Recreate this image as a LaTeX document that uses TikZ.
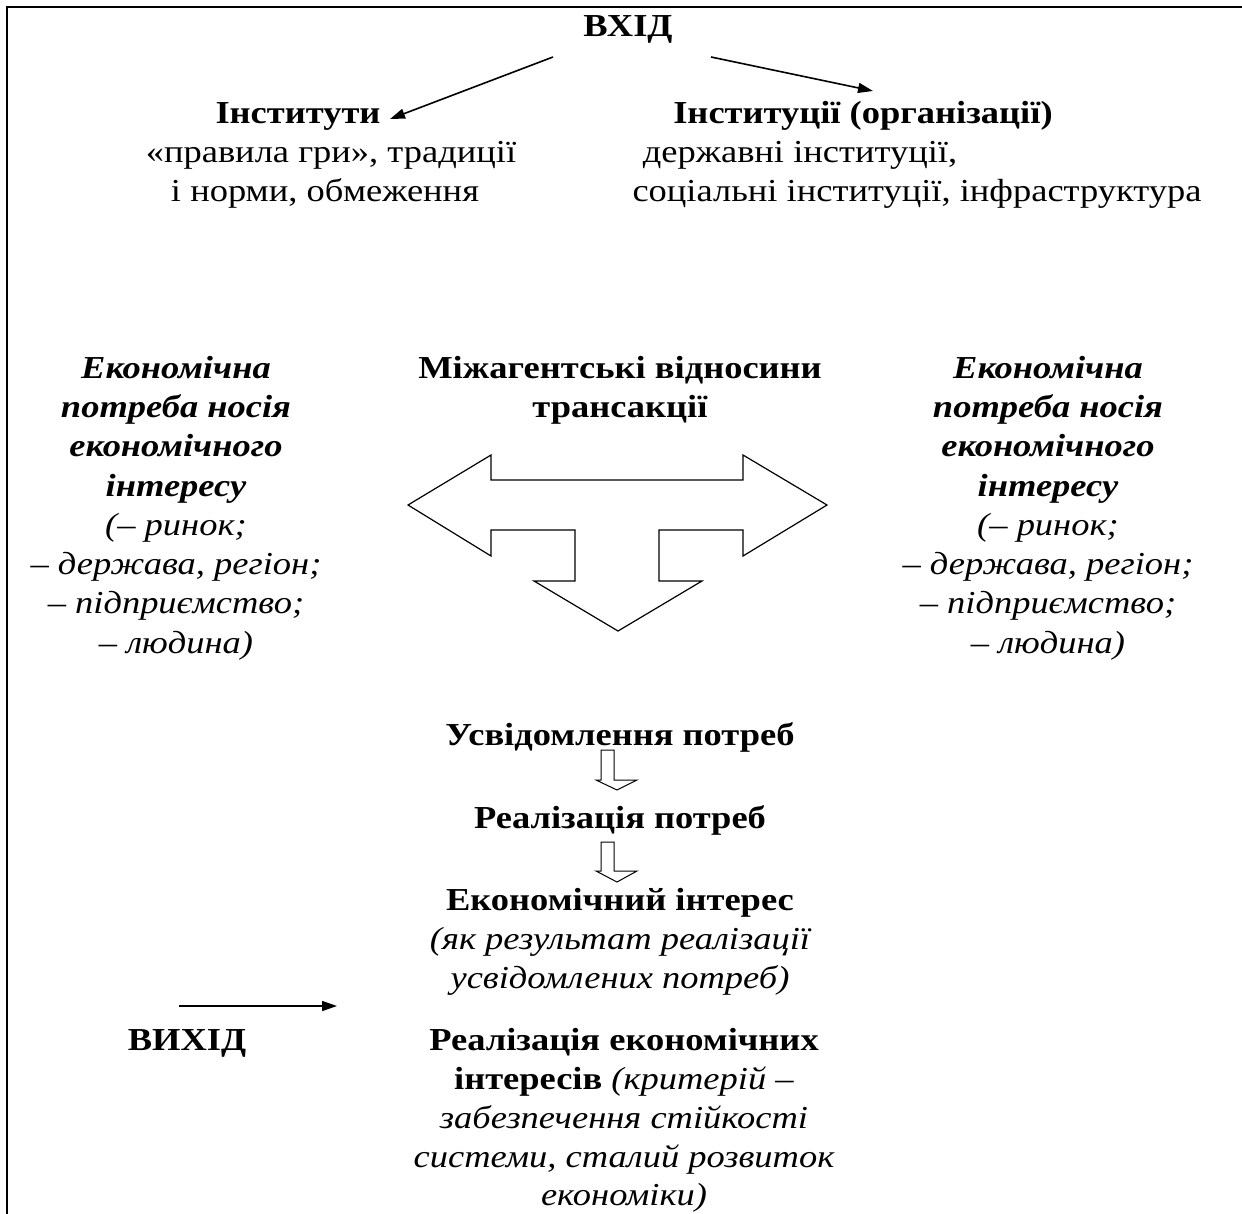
\documentclass[tikz,border=0pt]{standalone}
\usepackage{fontspec}
\setmainfont{Liberation Serif}[FakeStretch=1.14]
\usetikzlibrary{arrows.meta}
\begin{document}
\begin{tikzpicture}[x=1pt,y=-1pt,
  txt/.style={anchor=base,inner sep=0pt,font=\fontsize{32}{39}\selectfont},
  txtb/.style={txt,font=\fontsize{32}{39}\selectfont\bfseries},
  txti/.style={txt,font=\fontsize{32}{39}\selectfont\itshape},
  txtbi/.style={txt,font=\fontsize{32}{39}\selectfont\bfseries\itshape},
  frame/.style={line width=2.2pt},
  conn/.style={line width=1.6pt,-{Triangle[length=15pt,width=10pt]}},
  outl/.style={line width=1.2pt,line join=miter}
]
\useasboundingbox (0,0) rectangle (1242,1213);
% frame
\draw[frame] (7,1220) -- (7,7) -- (1250,7);

% top
\node[txtb] (vhid) at (628,36) {ВХІД};
\node[txtb] (inst) at (298,123) {Інститути};
\node[txt] (inst2) at (331,162) {«правила гри», традиції};
\node[txt] (inst3) at (325,201) {і норми, обмеження};
\node[txtb] (org) at (863,123) {Інституції (організації)};
\node[txt] (org2) at (800,162) {державні інституції,};
\node[txt] (org3) at (917,201) {соціальні інституції, інфраструктура};

\coordinate (vl) at (553,57);
\coordinate (il) at (390,119);
\coordinate (vr) at (711,57);
\coordinate (ir) at (873,91);
\draw[conn] (vl) -- (il);
\draw[conn] (vr) -- (ir);

% middle
\node[txtb] (mid1) at (620,378) {Міжагентські відносини};
\node[txtb] (mid2) at (620,417) {трансакції};

\foreach \cx/\nm in {176/L,1048/R}{
  \node[txtbi] (e1\nm) at (\cx,378) {Економічна};
  \node[txtbi] (e2\nm) at (\cx,417) {потреба носія};
  \node[txtbi] (e3\nm) at (\cx,456) {економічного};
  \node[txtbi] (e4\nm) at (\cx,496) {інтересу};
  \node[txti] (e5\nm) at (\cx,535) {(– ринок;};
  \node[txti] (e6\nm) at (\cx,574) {– держава, регіон;};
  \node[txti] (e7\nm) at (\cx,613) {– підприємство;};
  \node[txti] (e8\nm) at (\cx,653) {– людина)};
}

% big T arrow
\draw[outl] (408,505) -- (491,455) -- (491,480) -- (743,480) -- (743,455)
  -- (827,505) -- (743,556) -- (743,530) -- (659,530) -- (659,581)
  -- (702,581) -- (618,631) -- (534,581) -- (575,581) -- (575,530)
  -- (491,530) -- (491,556) -- cycle;

% lower chain
\node[txtb] (us) at (620,745) {Усвідомлення потреб};
\draw[outl,line width=1pt] (601,750) -- (601,780) -- (596,780) -- (617,790) -- (637,780) -- (614,780) -- (614,750) -- cycle;
\node[txtb] (rp) at (620,828) {Реалізація потреб};
\draw[outl,line width=1pt] (601,842) -- (601,871) -- (596,871) -- (617,882) -- (637,871) -- (614,871) -- (614,842) -- cycle;
\node[txtb] (ei) at (620,910) {Економічний інтерес};
\node[txti] (ei2) at (620,949) {(як результат реалізації};
\node[txti] (ei3) at (620,988) {усвідомлених потреб)};

\node[txtb] (re1) at (624,1050) {Реалізація економічних};
\node[txt] (re2) at (624,1089) {\textbf{інтересів} \textit{(критерій –}};
\node[txti] (re3) at (624,1128) {забезпечення стійкості};
\node[txti] (re4) at (624,1167) {системи, сталий розвиток};
\node[txti] (re5) at (624,1205) {економіки)};

\node[txtb] (vyh) at (187,1050) {ВИХІД};
\coordinate (os) at (179,1006);
\coordinate (oe) at (337,1006);
\draw[conn] (os) -- (oe);
\end{tikzpicture}
\end{document}
